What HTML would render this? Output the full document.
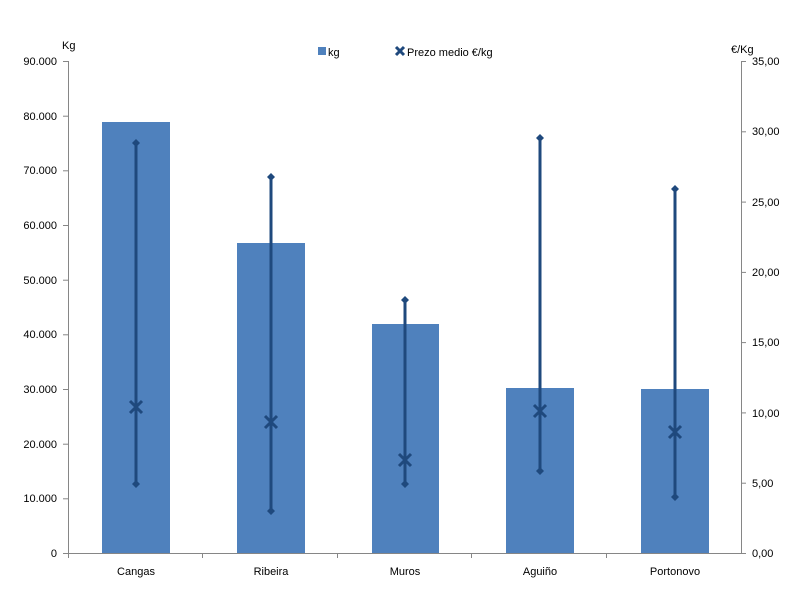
<!DOCTYPE html>
<html><head><style>body{margin:0;background:#fff}svg{display:block}text{font-family:"Liberation Sans",sans-serif;font-size:11px;fill:#000}</style></head>
<body>
<svg width="800" height="591" xmlns="http://www.w3.org/2000/svg">
<g stroke="#868686" stroke-width="1">
<line x1="68.5" y1="61" x2="68.5" y2="553"/>
<line x1="741.5" y1="61" x2="741.5" y2="553"/>
<line x1="68" y1="553.5" x2="741" y2="553.5"/>
<line x1="63" y1="553.5" x2="68" y2="553.5"/><line x1="63" y1="498.8" x2="68" y2="498.8"/><line x1="63" y1="444.2" x2="68" y2="444.2"/><line x1="63" y1="389.5" x2="68" y2="389.5"/><line x1="63" y1="334.8" x2="68" y2="334.8"/><line x1="63" y1="280.2" x2="68" y2="280.2"/><line x1="63" y1="225.5" x2="68" y2="225.5"/><line x1="63" y1="170.8" x2="68" y2="170.8"/><line x1="63" y1="116.2" x2="68" y2="116.2"/><line x1="63" y1="61.5" x2="68" y2="61.5"/>
<line x1="741" y1="553.5" x2="746" y2="553.5"/><line x1="741" y1="483.2" x2="746" y2="483.2"/><line x1="741" y1="412.9" x2="746" y2="412.9"/><line x1="741" y1="342.6" x2="746" y2="342.6"/><line x1="741" y1="272.4" x2="746" y2="272.4"/><line x1="741" y1="202.1" x2="746" y2="202.1"/><line x1="741" y1="131.8" x2="746" y2="131.8"/><line x1="741" y1="61.5" x2="746" y2="61.5"/>
<line x1="68.5" y1="553" x2="68.5" y2="558"/><line x1="202.5" y1="553" x2="202.5" y2="558"/><line x1="337.5" y1="553" x2="337.5" y2="558"/><line x1="471.5" y1="553" x2="471.5" y2="558"/><line x1="606.5" y1="553" x2="606.5" y2="558"/>
</g>
<g text-anchor="end">
<text x="57" y="557">0</text><text x="57" y="502">10.000</text><text x="57" y="448">20.000</text><text x="57" y="393">30.000</text><text x="57" y="338">40.000</text><text x="57" y="284">50.000</text><text x="57" y="229">60.000</text><text x="57" y="174">70.000</text><text x="57" y="120">80.000</text><text x="57" y="65">90.000</text>
</g>
<g>
<text x="752" y="557">0,00</text><text x="752" y="487">5,00</text><text x="752" y="417">10,00</text><text x="752" y="346">15,00</text><text x="752" y="276">20,00</text><text x="752" y="206">25,00</text><text x="752" y="135">30,00</text><text x="752" y="65">35,00</text>
</g>
<text x="62" y="49">Kg</text>
<text x="731" y="53">€/Kg</text>
<g fill="#4f81bd">
<rect x="102" y="122" width="68" height="431"/>
<rect x="237" y="243" width="68" height="310"/>
<rect x="372" y="324" width="67" height="229"/>
<rect x="506" y="388" width="68" height="165"/>
<rect x="641" y="389" width="68" height="164"/>
</g>
<g stroke="#1f497d" stroke-width="3">
<line x1="136" y1="143" x2="136" y2="484"/>
<line x1="271" y1="177" x2="271" y2="511"/>
<line x1="405" y1="300" x2="405" y2="484"/>
<line x1="540" y1="138" x2="540" y2="471"/>
<line x1="675" y1="189" x2="675" y2="497"/>
</g>
<g fill="#1f497d">
<path d="M136 139l4 4-4 4-4-4zM136 480l4 4-4 4-4-4z"/>
<path d="M271 173l4 4-4 4-4-4zM271 507l4 4-4 4-4-4z"/>
<path d="M405 296l4 4-4 4-4-4zM405 480l4 4-4 4-4-4z"/>
<path d="M540 134l4 4-4 4-4-4zM540 467l4 4-4 4-4-4z"/>
<path d="M675 185l4 4-4 4-4-4zM675 493l4 4-4 4-4-4z"/>
</g>
<g stroke="#1f497d" stroke-width="3">
<path d="M130 401l12 12M142 401l-12 12"/>
<path d="M265 416l12 12M277 416l-12 12"/>
<path d="M399 454l12 12M411 454l-12 12"/>
<path d="M534 405l12 12M546 405l-12 12"/>
<path d="M669 426l12 12M681 426l-12 12"/>
<path d="M396 47l8 8M404 47l-8 8"/>
</g>
<rect x="318" y="47" width="8" height="8" fill="#4f81bd"/>
<text x="328" y="56">kg</text>
<text x="407" y="56">Prezo medio €/kg</text>
<g text-anchor="middle">
<text x="136" y="575">Cangas</text><text x="271" y="575">Ribeira</text><text x="405" y="575">Muros</text><text x="540" y="575">Aguiño</text><text x="675" y="575">Portonovo</text>
</g>
</svg>
</body></html>
